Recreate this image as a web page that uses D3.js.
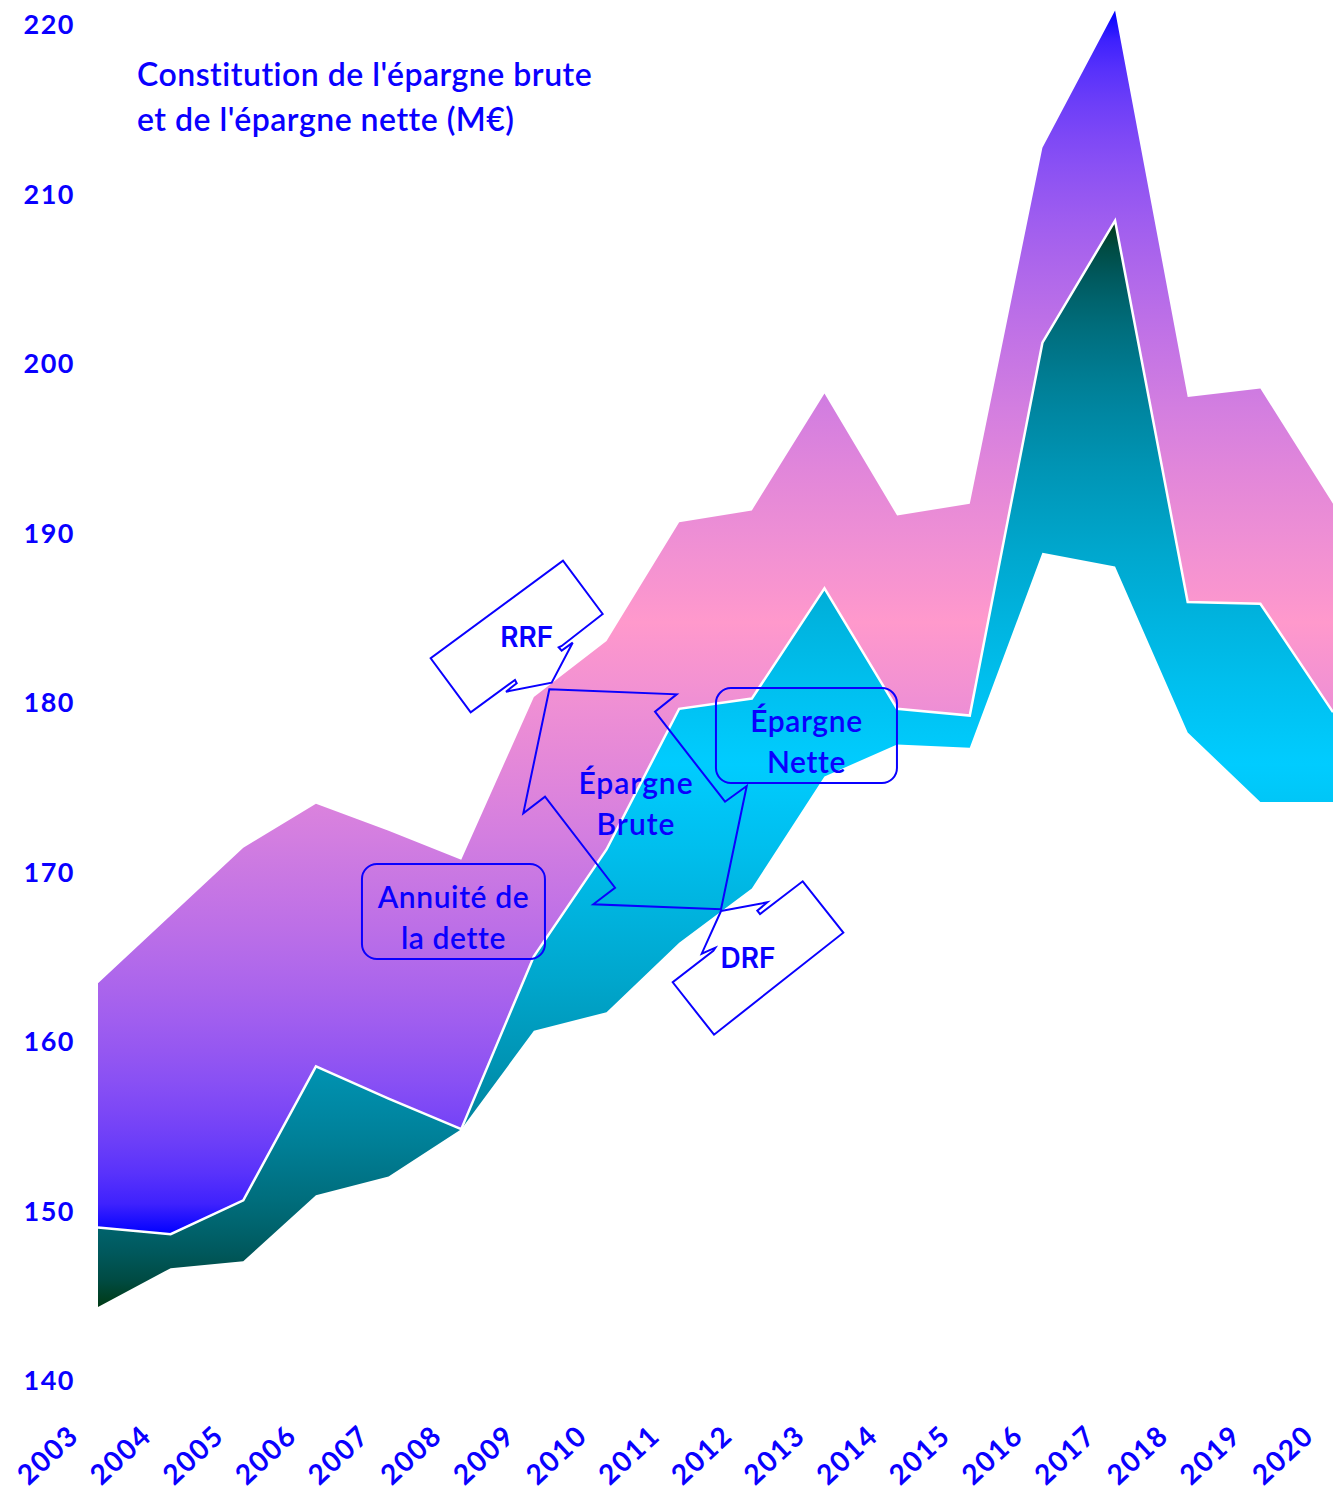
<!DOCTYPE html>
<html>
<head>
<meta charset="utf-8">
<script src="https://cdn.jsdelivr.net/npm/d3@7"></script>
<style>
  html, body { margin: 0; padding: 0; background: #ffffff; }
  svg { display: block; }
</style>
</head>
<body>
<script>
// ---------------- DATA ----------------
const years = [2003, 2004, 2005, 2006, 2007, 2008, 2009, 2010, 2011, 2012, 2013, 2014, 2015, 2016, 2017, 2018, 2019, 2020];
// upper boundary of the top band (RRF)
const topValues = [163.4, 167.4, 171.4, 174.0, 172.4, 170.7, 180.3, 183.6, 190.6, 191.3, 198.2, 191.0, 191.7, 212.7, 220.8, 198.0, 198.5, 191.7];
// boundary between the two bands (white line)
const midValues = [149.0, 148.6, 150.6, 158.5, 156.6, 154.8, 165.0, 171.3, 179.6, 180.2, 186.7, 179.6, 179.2, 201.2, 208.4, 185.9, 185.8, 179.4];
// lower boundary of the bottom band (DRF side)
const lowValues = [144.3, 146.6, 147.0, 150.9, 152.0, 154.8, 160.6, 161.7, 165.8, 169.0, 175.6, 177.5, 177.3, 188.8, 188.0, 178.2, 174.1, 174.1];
const yTicks = [140, 150, 160, 170, 180, 190, 200, 210, 220];
const titleLines = ["Constitution de l'épargne brute", "et de l'épargne nette (M€)"];

// ---------------- LAYOUT ----------------
const W = 1333, H = 1497;
const BLUE = "#0a00ff";
const svg = d3.select("body").append("svg").attr("width", W).attr("height", H);

const x = d3.scaleLinear().domain([2003, 2020]).range([98, 1333]);
const y = d3.scaleLinear().domain([140, 220]).range([1380, 24]);

const rows = years.map((yr, i) => ({ yr, top: topValues[i], mid: midValues[i], low: lowValues[i] }));

// gradients interpolated in linear RGB (edge -> centre -> edge)
function lin(c) { c /= 255; return c <= 0.04045 ? c / 12.92 : Math.pow((c + 0.055) / 1.055, 2.4); }
function srgb(l) { const c = l <= 0.0031308 ? l * 12.92 : 1.055 * Math.pow(l, 1 / 2.4) - 0.055; return Math.round(Math.max(0, Math.min(1, c)) * 255); }
function mixLin(a, b, t) {
  const ca = d3.rgb(a), cb = d3.rgb(b);
  return d3.rgb(
    srgb(lin(ca.r) * (1 - t) + lin(cb.r) * t),
    srgb(lin(ca.g) * (1 - t) + lin(cb.g) * t),
    srgb(lin(ca.b) * (1 - t) + lin(cb.b) * t)).formatHex();
}
const defs = svg.append("defs");
function makeGrad(id, edge, centre, yTop, yBottom) {
  const g = defs.append("linearGradient").attr("id", id)
    .attr("gradientUnits", "userSpaceOnUse")
    .attr("x1", 0).attr("x2", 0).attr("y1", yTop).attr("y2", yBottom);
  const n = 40;
  for (let k = 0; k <= n; k++) {
    const o = k / n;
    const d = Math.abs(o - 0.5) * 2;
    g.append("stop").attr("offset", o).attr("stop-color", mixLin(centre, edge, d));
  }
}
makeGrad("gradTop", "#0000ff", "#ff99cc", y(d3.max(topValues)), y(d3.min(midValues)));
makeGrad("gradLow", "#003a14", "#00ccff", y(d3.max(midValues)), y(d3.min(lowValues)));

const areaTop = d3.area().x(d => x(d.yr)).y0(d => y(d.mid)).y1(d => y(d.top));
const areaLow = d3.area().x(d => x(d.yr)).y0(d => y(d.low)).y1(d => y(d.mid));
const midLine = d3.line().x(d => x(d.yr)).y(d => y(d.mid));

svg.append("path").datum(rows).attr("d", areaTop).attr("fill", "url(#gradTop)");
svg.append("path").datum(rows).attr("d", areaLow).attr("fill", "url(#gradLow)");
svg.append("path").datum(rows).attr("d", midLine)
  .attr("fill", "none").attr("stroke", "#ffffff").attr("stroke-width", 2.5);

// ---------------- AXES (labels only) ----------------
const FONT = "Lato, 'Open Sans', sans-serif";
const yAxis = d3.axisLeft(y).tickValues(yTicks).tickSize(0).tickPadding(0);
const gy = svg.append("g").attr("transform", "translate(75,0)").call(yAxis);
gy.select(".domain").remove();
gy.selectAll("text").attr("fill", BLUE).attr("font-family", FONT)
  .attr("font-size", 27).attr("font-weight", 700).attr("letter-spacing", 1.5).attr("dy", "0.36em");

const xAxis = d3.axisBottom(x).tickValues(years).tickFormat(d3.format("d")).tickSize(0).tickPadding(0);
const gx = svg.append("g").attr("transform", "translate(0,1438)").call(xAxis);
gx.select(".domain").remove();
gx.selectAll("text").attr("fill", BLUE).attr("font-family", FONT)
  .attr("font-size", 28).attr("font-weight", 700).attr("letter-spacing", 1.5)
  .attr("text-anchor", "end").attr("dy", 0).attr("y", 0)
  .attr("transform", "translate(-18,0) rotate(-43)");

// ---------------- TITLE ----------------
const title = svg.append("text").attr("x", 137).attr("y", 86)
  .attr("fill", BLUE).attr("font-family", FONT).attr("font-size", 32).attr("font-weight", 600)
  .attr("letter-spacing", 0.5);
titleLines.forEach((t, i) => title.append("tspan").attr("x", 137).attr("dy", i === 0 ? 0 : 45).text(t));

// ---------------- CALLOUTS ----------------
// shapes given in pixel offsets relative to a data anchor
const polyCallouts = [
  { anchor: [2009.245, 181.14], text: ["RRF"], font: "Inter, Roboto, sans-serif", size: 28, weight: 600, ls: 0, textAt: [-25, -46],
    shape: [[51, -68.7], [10, -36.7], [7, -35.4], [10, -32], [21, -40], [0, 0], [-45.7, 9], [-35, 0.6], [-36.7, -2.7], [-81, 29.6], [-121, -24.4], [11.3, -122]] },
  { anchor: [2011.576, 167.67], text: ["DRF"], font: "Inter, Roboto, sans-serif", size: 28, weight: 600, ls: 0, textAt: [27, 47],
    shape: [[0, 0], [46.3, -8.7], [36.3, -0.3], [39, 3], [81.7, -29.7], [122.3, 21.7], [-7, 123.7], [-48.3, 71.3], [-7.7, 39.7], [-5.7, 36.7], [-19.3, 42.7]] },
  { anchor: [2011.576, 167.67], text: ["Épargne", "Brute"], font: FONT, size: 30, weight: 600, ls: 1, textAt: [-85, -128],
    shape: [[-171.7, -221.7], [-44.3, -216.7], [-66, -199.3], [4, -109.3], [25.7, -125], [0, -1.7], [-127.7, -6.7], [-106, -23.3], [-176, -114.3], [-197.7, -97.7]] }
];
const boxCallouts = [
  { anchor: [2007.893, 167.64], w: 183, h: 95, text: ["Annuité de", "la dette"] },
  { anchor: [2012.752, 178.02], w: 181, h: 95, text: ["Épargne", "Nette"] }
];

const gc = svg.append("g");
boxCallouts.forEach(c => {
  const cx = x(c.anchor[0]), cy = y(c.anchor[1]);
  gc.append("rect").attr("x", cx - c.w / 2).attr("y", cy - c.h / 2)
    .attr("width", c.w).attr("height", c.h).attr("rx", 15).attr("ry", 15)
    .attr("fill", "none").attr("stroke", BLUE).attr("stroke-width", 2);
  c.text.forEach((t, i) => gc.append("text")
    .attr("x", cx).attr("y", cy - 14 + i * 41).attr("dy", "0.36em")
    .attr("text-anchor", "middle").attr("fill", BLUE)
    .attr("font-family", FONT).attr("font-size", 30).attr("font-weight", 600)
    .attr("letter-spacing", 0.6).text(t));
});
polyCallouts.forEach(c => {
  const ax = x(c.anchor[0]), ay = y(c.anchor[1]);
  gc.append("path")
    .attr("d", d3.line()(c.shape.map(p => [ax + p[0], ay + p[1]])) + "Z")
    .attr("fill", "none").attr("stroke", BLUE).attr("stroke-width", 2).attr("stroke-linejoin", "miter");
  c.text.forEach((t, i) => gc.append("text")
    .attr("x", ax + c.textAt[0]).attr("y", ay + c.textAt[1] + i * 41).attr("dy", "0.36em")
    .attr("text-anchor", "middle").attr("fill", BLUE)
    .attr("font-family", c.font).attr("font-size", c.size).attr("font-weight", c.weight)
    .attr("letter-spacing", c.ls).text(t));
});
</script>
</body>
</html>
